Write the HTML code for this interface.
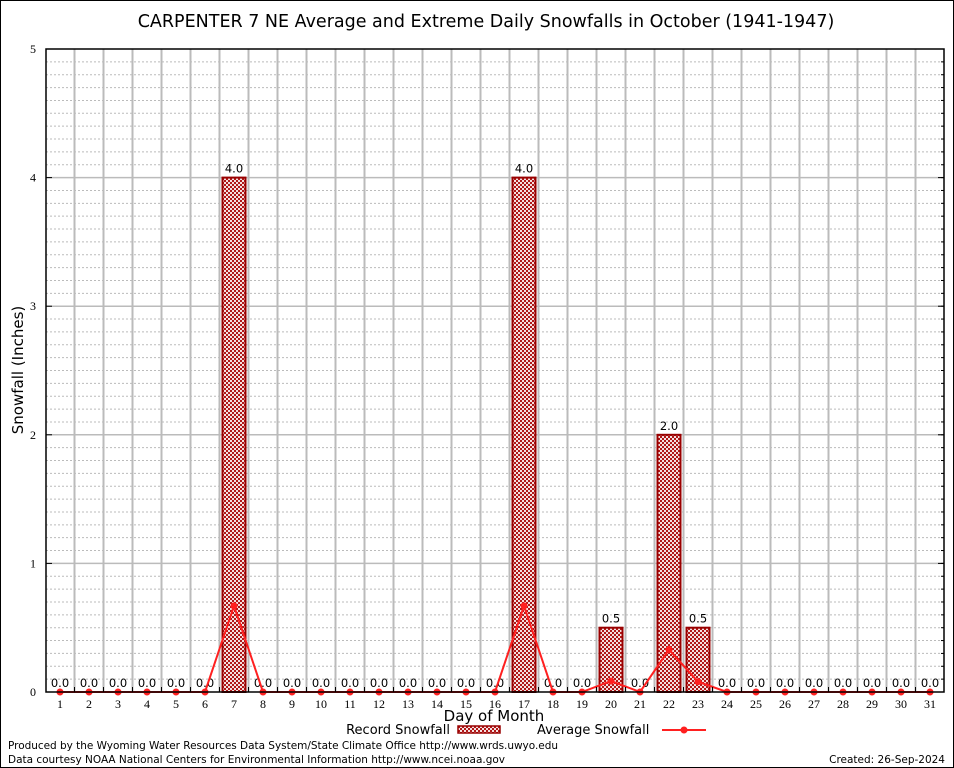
<!DOCTYPE html>
<html><head><meta charset="utf-8"><style>
body{margin:0;background:#fff;}
svg{display:block;font-family:"DejaVu Sans","Liberation Sans",sans-serif;}
</style></head><body>
<svg id="chart" width="954" height="768" viewBox="0 0 954 768">
<defs>
<pattern id="hatch" x="0" y="0" width="4" height="4" patternUnits="userSpaceOnUse">
<rect width="4" height="4" fill="#f4e0e0"/>
<rect width="2" height="2" fill="#b01818"/><rect x="2" y="2" width="2" height="2" fill="#b01818"/>
</pattern>
</defs>
<rect x="0.5" y="0.5" width="953" height="767" fill="#fff" stroke="#000"/>
<text x="486" y="27" font-size="17.5" text-anchor="middle">CARPENTER 7 NE Average and Extreme Daily Snowfalls in October (1941-1947)</text>
<g id="grid"></g>
<g id="bars"></g>
<g id="line"></g>
<g id="axes"></g>
<text transform="translate(23,370) rotate(-90)" font-size="15" text-anchor="middle">Snowfall (Inches)</text>
<text x="494" y="721" font-size="15" text-anchor="middle">Day of Month</text>
<g>
<text x="450" y="734" font-size="13" text-anchor="end">Record Snowfall</text>
<rect x="458" y="726" width="42" height="7" fill="url(#hatch)" stroke="#990000" stroke-width="1.5"/>
</g>
<g>
<text x="537" y="734" font-size="13">Average Snowfall</text>
<line x1="662" y1="730" x2="706" y2="730" stroke="#ff2020" stroke-width="2"/>
<circle cx="684" cy="730" r="3.5" fill="#ff2020"/>
</g>
<text x="8" y="749" font-size="10.5" textLength="550">Produced by the Wyoming Water Resources Data System/State Climate Office http://www.wrds.uwyo.edu</text>
<text x="8" y="763" font-size="10.5" textLength="497">Data courtesy NOAA National Centers for Environmental Information http://www.ncei.noaa.gov</text>
<text x="945" y="763" font-size="10.5" text-anchor="end">Created: 26-Sep-2024</text>
</svg>
<script>
const days = Array.from({length:31},(_,i)=>i+1);
const recordSnow = [0,0,0,0,0,0,4.0,0,0,0,0,0,0,0,0,0,4.0,0,0,0.5,0,2.0,0.5,0,0,0,0,0,0,0,0];
const avgSnow = [0,0,0,0,0,0,0.67,0,0,0,0,0,0,0,0,0,0.67,0,0,0.085,0,0.33,0.08,0,0,0,0,0,0,0,0];
const yTicks = [0,1,2,3,4,5];

const NS="http://www.w3.org/2000/svg";
const L=46,R=944,T=49,B=692;
const x=d=>60+(d-1)*29;
const y=v=>B-(v/5)*(B-T);
function mk(tag,attrs,parent){const e=document.createElementNS(NS,tag);for(const k in attrs)e.setAttribute(k,attrs[k]);parent.appendChild(e);return e;}
const grid=document.getElementById('grid'),bars=document.getElementById('bars'),line=document.getElementById('line'),axes=document.getElementById('axes');
for(let i=1;i<50;i++){if(i%10===0)continue;const l=mk('line',{x1:L,x2:R,y1:y(i/10),y2:y(i/10),stroke:'#bbb','stroke-dasharray':'2,2'},grid);

}
yTicks.forEach(t=>{if(t>0&&t<5){const l=mk('line',{x1:L,x2:R,y1:y(t),y2:y(t),stroke:'#bbb','stroke-width':1.5},grid);

}
const tx=mk('text',{x:36,y:y(t)+4,'font-size':12,'text-anchor':'end','font-family':'Liberation Serif,serif'},axes);tx.textContent=t;


mk('line',{x1:L,x2:L+6,y1:y(t),y2:y(t),stroke:'#000'},axes);mk('line',{x1:R,x2:R-6,y1:y(t),y2:y(t),stroke:'#000'},axes);});
for(let i=1;i<50;i++){mk('line',{x1:R,x2:R-3,y1:y(i/10),y2:y(i/10),stroke:'#000'},axes);}
for(let d=1;d<31;d++){const l=mk('line',{x1:x(d)+14.5,x2:x(d)+14.5,y1:T,y2:B,stroke:'#bbb','stroke-width':2},grid);


mk('line',{x1:x(d)+14.5,x2:x(d)+14.5,y1:B,y2:B-5,stroke:'#000'},axes);}
mk('rect',{x:L,y:T,width:R-L,height:B-T,fill:'none',stroke:'#000','stroke-width':1.5},axes);
days.forEach((d,i)=>{const v=recordSnow[i];
if(v>0){const r=mk('rect',{x:x(d)-11.5,y:y(v),width:23,height:B-y(v),fill:'url(#hatch)',stroke:'#990000','stroke-width':2},bars);

}
const lb=mk('text',{x:x(d),y:y(v)-5,'font-size':11.5,'text-anchor':'middle'},bars);lb.textContent=v.toFixed(1);


const xt=mk('text',{x:x(d),y:708,'font-size':12,'text-anchor':'middle','font-family':'Liberation Serif,serif'},axes);xt.textContent=d;

});
const pl=mk('polyline',{points:days.map((d,i)=>x(d)+','+y(avgSnow[i])).join(' '),fill:'none',stroke:'#ff2020','stroke-width':2},line);


days.forEach((d,i)=>{const c=mk('circle',{cx:x(d),cy:y(avgSnow[i]),r:3.5,fill:'#ff2020'},line);

});
</script>
</body></html>
